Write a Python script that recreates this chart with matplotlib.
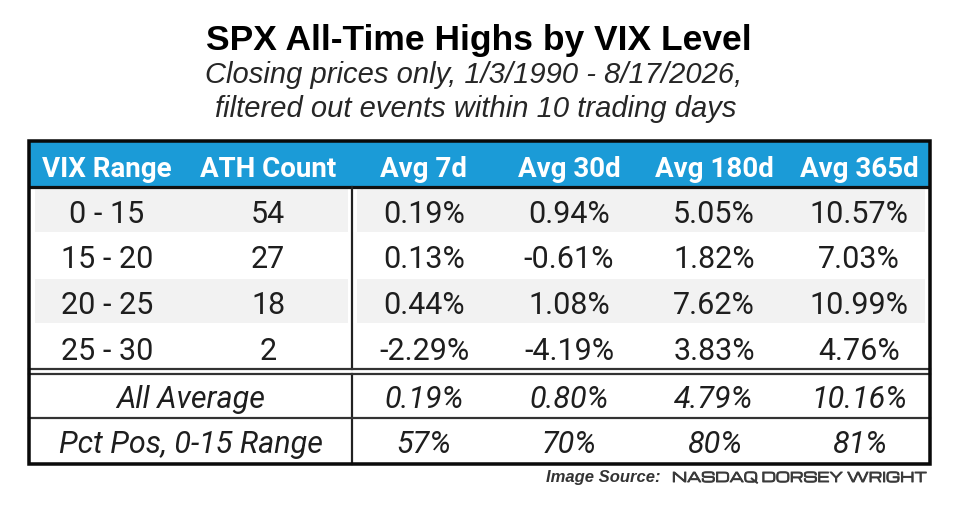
import matplotlib
matplotlib.use("Agg")
import matplotlib.pyplot as plt
from matplotlib.patches import Rectangle
import matplotlib.patheffects as pe

# ---------------- data ----------------
title = "SPX All-Time Highs by VIX Level"
subtitle_lines = ["Closing prices only, 1/3/1990 - 8/17/2026,",
                  "filtered out events within 10 trading days"]
headers = ["VIX Range", "ATH Count", "Avg 7d", "Avg 30d", "Avg 180d", "Avg 365d"]
vix_ranges = ["0 - 15", "15 - 20", "20 - 25", "25 - 30"]
ath_counts = [54, 27, 18, 2]
avg_7d = [0.19, 0.13, 0.44, -2.29]
avg_30d = [0.94, -0.61, 1.08, -4.19]
avg_180d = [5.05, 1.82, 7.62, 3.83]
avg_365d = [10.57, 7.03, 10.99, 4.76]
all_average_label = "All Average"
all_average = [0.19, 0.80, 4.79, 10.16]
pct_pos_label = "Pct Pos, 0-15 Range"
pct_pos = [57, 70, 80, 81]
source_prefix = "Image Source:"
source_name = "NASDAQ DORSEY WRIGHT"

# ---------------- style / layout ----------------
W, H = 960, 509
BLUE = "#1B9BD7"
GRAY = "#F2F2F2"
TXT = "#1E1E1E"
BODY_FONT = "Roboto"
TITLE_FONT = "Liberation Sans"

fig = plt.figure(figsize=(W / 100, H / 100), dpi=100)
ax = fig.add_axes([0, 0, 1, 1])
ax.set_xlim(0, W)
ax.set_ylim(H, 0)
ax.axis("off")

px = 72 / 100  # points per pixel

left, right = 29, 930
top, head_bot = 141, 187
row_edges = [187, 232, 277, 323, 369]
dbl_top, dbl_bot = 369, 374
avg_bot, pct_bot = 418, 464
vdiv = 352
col_x = [107, 268, 424, 569, 714, 859]
row_base = [223, 268, 314, 360]
avg_base, pct_base = 408, 453

# title block
ax.text(W / 2 - 1, 50, title, ha="center", va="baseline", fontsize=25.5,
        fontweight="bold", family=TITLE_FONT, color="#000000")
ax.text(W / 2 - 6, 83, subtitle_lines[0], ha="center", va="baseline",
        fontsize=21, style="italic", family=TITLE_FONT, color="#262626")
ax.text(W / 2 - 4, 117, subtitle_lines[1], ha="center", va="baseline",
        fontsize=21, style="italic", family=TITLE_FONT, color="#262626")

# header background
ax.add_patch(Rectangle((left, top), right - left, head_bot - top,
                       facecolor=BLUE, edgecolor="none", zorder=1))
for x, h in zip(col_x, headers):
    ax.text(x, 177, h, ha="center", va="baseline", fontsize=20,
            fontweight="bold", family=BODY_FONT, color="white", zorder=5)

# banded rows
for i in range(len(vix_ranges)):
    y0, y1 = row_edges[i], row_edges[i + 1]
    if i % 2 == 0:
        ax.add_patch(Rectangle((left + 6, y0 + 2), vdiv - left - 10, y1 - y0 - 2,
                               facecolor=GRAY, edgecolor="none", zorder=1))
        ax.add_patch(Rectangle((vdiv + 5, y0 + 2), right - vdiv - 10, y1 - y0 - 2,
                               facecolor=GRAY, edgecolor="none", zorder=1))

fmt = lambda v: f"{v:.2f}%"
for i in range(len(vix_ranges)):
    vals = [vix_ranges[i], str(ath_counts[i]), fmt(avg_7d[i]), fmt(avg_30d[i]),
            fmt(avg_180d[i]), fmt(avg_365d[i])]
    for x, v in zip(col_x, vals):
        ax.text(x, row_base[i], v, ha="center", va="baseline", fontsize=22,
                family=BODY_FONT, color=TXT, zorder=5)

# summary rows
ax.text((left + vdiv) / 2, avg_base, all_average_label, ha="center", va="baseline",
        fontsize=22, style="italic", family=BODY_FONT, color=TXT, zorder=5)
for x, v in zip(col_x[2:], all_average):
    ax.text(x, avg_base, fmt(v), ha="center", va="baseline", fontsize=22,
            style="italic", family=BODY_FONT, color=TXT, zorder=5)
ax.text((left + vdiv) / 2, pct_base, pct_pos_label, ha="center", va="baseline",
        fontsize=22, style="italic", family=BODY_FONT, color=TXT, zorder=5)
for x, v in zip(col_x[2:], pct_pos):
    ax.text(x, pct_base, f"{v}%", ha="center", va="baseline", fontsize=22,
            style="italic", family=BODY_FONT, color=TXT, zorder=5)

# lines
lw_thick = 3.2 * px
lw_mid = 2.2 * px
ax.plot([left, right], [head_bot, head_bot], color="#111111", lw=lw_thick, zorder=6,
        solid_capstyle="butt")
ax.plot([vdiv, vdiv], [head_bot, dbl_top], color="#222222", lw=lw_mid, zorder=6)
ax.plot([vdiv, vdiv], [dbl_bot, pct_bot], color="#222222", lw=lw_mid, zorder=6)
ax.plot([left, right], [dbl_top, dbl_top], color="#333333", lw=lw_mid, zorder=6)
ax.plot([left, right], [dbl_bot, dbl_bot], color="#333333", lw=lw_mid, zorder=6)
ax.plot([left, right], [avg_bot, avg_bot], color="#333333", lw=lw_mid, zorder=6)
ax.add_patch(Rectangle((left, top), right - left, pct_bot - top, facecolor="none",
                       edgecolor="#0A0A0A", lw=lw_thick * 1.1, zorder=7,
                       joinstyle="miter"))

# source
ax.text(661, 482, source_prefix, ha="right", va="baseline", fontsize=12,
        fontweight="bold", style="italic", family="Liberation Sans", color="#333333")
ax.text(928, 482, source_name, ha="right", va="baseline", fontsize=9.6,
        family="Michroma", color="#3A3A3A",
        path_effects=[pe.withStroke(linewidth=0.7, foreground="#3A3A3A")])

fig.savefig("out.png", dpi=100, facecolor="white")
